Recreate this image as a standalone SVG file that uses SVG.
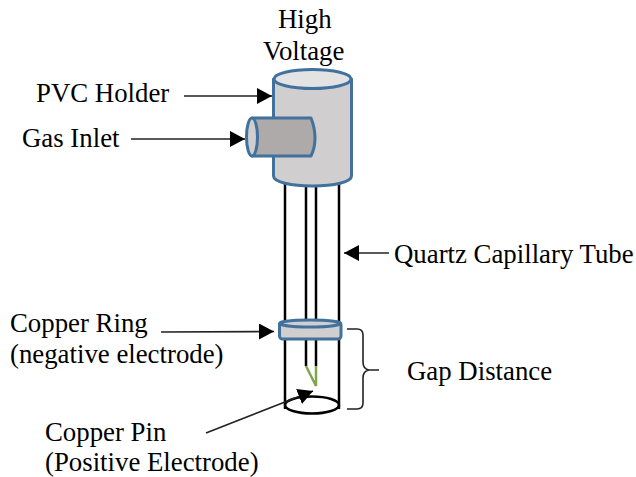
<svg xmlns="http://www.w3.org/2000/svg" width="636" height="477" viewBox="0 0 636 477">
<defs>
<style>
text{font-family:"Liberation Serif","Times New Roman",serif;font-size:26.800px;fill:#000}
.b{stroke:#41719c;stroke-width:3;stroke-linejoin:round}
.k{fill:none;stroke:#000;stroke-width:2.500}
.a{fill:none;stroke:#222;stroke-width:1.600}
</style>
<marker id="ah" markerUnits="userSpaceOnUse" markerWidth="16" markerHeight="16" refX="15" refY="8" orient="auto"><path d="M0 0L15 8L0 16Z" fill="#000"/></marker>
</defs>
<rect width="636" height="477" fill="#fff"/>
<g id="capillary">
<path class="k" d="M285 184V409M339 184V409M306 184V366M316 184V366"/>
<path class="k" d="M285 405A27 8.500 0 0 1 339 405A27 8.500 0 0 1 285 405Z"/>
<path d="M306 366L316 386V366" fill="none" stroke="#7fa64a" stroke-width="2.500"/>
</g>
<g id="holder">
<path class="b" d="M273.500 79V176C273.500 182 291 186 312.500 186S351.500 182 351.500 176V79Z" fill="#d0cece"/>
<ellipse class="b" cx="312.500" cy="79" rx="38.500" ry="9.500" fill="#e3e3e3"/>
</g>
<g id="inlet">
<path class="b" d="M252 118H311Q315 128 315 138T311 156H252Z" fill="#aeaaaa"/>
<ellipse class="b" cx="252" cy="137" rx="5.500" ry="19" fill="#d0cece"/>
</g>
<g id="ring">
<rect class="b" x="279.500" y="322" width="61.500" height="17" rx="3" fill="#d0cece"/>
<ellipse class="b" cx="310" cy="323.500" rx="30.500" ry="3.500" fill="#d0cece"/>
</g>
<g id="connectors">
<path class="a" d="M184 96H272" marker-end="url(#ah)"/>
<path class="a" d="M131 139H245" marker-end="url(#ah)"/>
<path class="a" d="M389 253H344" marker-end="url(#ah)"/>
<path class="a" d="M161 332L274 331.500" marker-end="url(#ah)"/>
<path class="a" d="M206 433L313 391" marker-end="url(#ah)"/>
<path class="a" d="M347 329H357Q363 329 363 335V362Q363 369 369 370H379M369 370Q363 371 363 378V403Q363 409 357 409H347" stroke-width="1.300"/>
</g>
<g id="labels">
<text x="278" y="28">High</text>
<text x="263" y="60">Voltage</text>
<text x="36" y="102">PVC Holder</text>
<text x="22" y="147">Gas Inlet</text>
<text x="394" y="263">Quartz Capillary Tube</text>
<text x="10" y="332">Copper Ring</text>
<text x="10" y="363">(negative electrode)</text>
<text x="407" y="380">Gap Distance</text>
<text x="45" y="441">Copper Pin</text>
<text x="45" y="471">(Positive Electrode)</text>
</g>
</svg>
